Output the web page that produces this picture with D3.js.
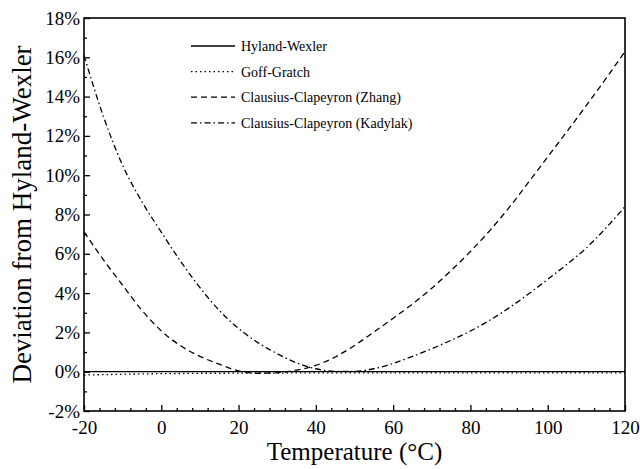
<!DOCTYPE html>
<html>
<head>
<meta charset="utf-8">
<script src="https://cdn.jsdelivr.net/npm/d3@7"></script>
<style>
  body { margin: 0; background: #fff; }
  svg text { font-family: "Liberation Serif", "Times New Roman", serif; fill: #000; }
</style>
</head>
<body>
<div id="chart"></div>
<script>
// temperatures (°C) the curves are sampled at
const temps = [-20, -15, -10, -5, 0, 5, 10, 15, 20, 25, 30, 35, 40, 45, 50,
  55, 60, 65, 70, 75, 80, 85, 90, 95, 100, 105, 110, 115, 120];

// deviation from Hyland-Wexler, in percent
const hylandWexler = [0, 0, 0, 0, 0, 0, 0, 0, 0, 0, 0, 0, 0, 0, 0,
  0, 0, 0, 0, 0, 0, 0, 0, 0, 0, 0, 0, 0, 0];
const goffGratch = [-0.17, -0.15, -0.13, -0.11, -0.10, -0.09, -0.08, -0.08, -0.07, -0.07, -0.07, -0.06, -0.06, -0.06, -0.06,
  -0.06, -0.06, -0.06, -0.06, -0.06, -0.06, -0.06, -0.06, -0.06, -0.06, -0.06, -0.06, -0.06, -0.06];
const zhang = [7.12, 5.7, 4.4, 3.12, 2.08, 1.32, 0.78, 0.38, 0.04, -0.08, -0.05, 0.08, 0.32, 0.75, 1.33,
  2.02, 2.72, 3.45, 4.25, 5.15, 6.12, 7.18, 8.35, 9.63, 10.93, 12.23, 13.55, 14.9, 16.3];
const kadylak = [16.1, 13.0, 10.5, 8.65, 7.1, 5.62, 4.28, 3.12, 2.2, 1.48, 0.92, 0.45, 0.15, 0.02, 0.02,
  0.15, 0.42, 0.78, 1.17, 1.6, 2.07, 2.62, 3.25, 3.95, 4.7, 5.47, 6.3, 7.3, 8.4];

const seriesNames = ["Hyland-Wexler", "Goff-Gratch", "Clausius-Clapeyron (Zhang)", "Clausius-Clapeyron (Kadylak)"];

// tick labels
const xTicks = [-20, 0, 20, 40, 60, 80, 100, 120];
const yTicks = [-2, 0, 2, 4, 6, 8, 10, 12, 14, 16, 18];

const width = 640;
const height = 469;
const marginLeft = 84;
const marginRight = 15;
const marginTop = 18;
const marginBottom = 58;
const chartWidth = width - marginLeft - marginRight;
const chartHeight = height - marginTop - marginBottom;

const svg = d3.select("#chart").append("svg")
  .attr("width", width)
  .attr("height", height);

const chart = svg.append("g")
  .attr("transform", `translate(${marginLeft}, ${marginTop})`);

const x = d3.scaleLinear().domain([-20, 120]).range([0, chartWidth]);
const y = d3.scaleLinear().domain([-2, 18]).range([chartHeight, 0]);

// minor ticks, every 4 °C and every 1 %
const xMinor = d3.range(-20, 121, 4).filter(v => !xTicks.includes(v));
const yMinor = d3.range(-1, 18, 2);

chart.append("g")
  .attr("transform", `translate(0, ${chartHeight})`)
  .call(d3.axisBottom(x).tickValues(xMinor).tickFormat("").tickSize(-3))
  .call(g => g.select(".domain").remove());

chart.append("g")
  .call(d3.axisLeft(y).tickValues(yMinor).tickFormat("").tickSize(-3))
  .call(g => g.select(".domain").remove());

// plain hyphen for negatives, like the original
const xAxis = chart.append("g")
  .attr("transform", `translate(0, ${chartHeight})`)
  .call(d3.axisBottom(x).tickValues(xTicks).tickSize(-6).tickPadding(10).tickFormat(d => String(d)));
xAxis.select(".domain").remove();
xAxis.selectAll(".tick text").attr("font-size", 19);

const yAxis = chart.append("g")
  .call(d3.axisLeft(y).tickValues(yTicks).tickSize(-6).tickPadding(4).tickFormat(d => d + "%"));
yAxis.select(".domain").remove();
yAxis.selectAll(".tick text").attr("font-size", 19);

chart.selectAll(".tick line").attr("stroke", "#000").attr("stroke-width", 1.3);

// frame
chart.append("rect")
  .attr("width", chartWidth)
  .attr("height", chartHeight)
  .attr("fill", "none")
  .attr("stroke", "#000")
  .attr("stroke-width", 1.6);

const dashes = [null, "1.5,3", "6,4", "6,3,1.5,3"];
const allSeries = [hylandWexler, goffGratch, zhang, kadylak];

const line = d3.line()
  .x((d, i) => x(temps[i]))
  .y(d => y(d))
  .curve(d3.curveMonotoneX);

chart.selectAll(".series")
  .data(allSeries)
  .enter().append("path")
  .attr("class", "series")
  .attr("d", d => line(d))
  .attr("fill", "none")
  .attr("stroke", "#000")
  .attr("stroke-width", 1.3)
  .attr("stroke-dasharray", (d, i) => dashes[i]);

// legend
const legend = svg.selectAll(".legend")
  .data(seriesNames)
  .enter().append("g")
  .attr("class", "legend")
  .attr("transform", (d, i) => `translate(191, ${46 + i * 25.6})`);

legend.append("line")
  .attr("x1", 0)
  .attr("x2", 44)
  .attr("stroke", "#000")
  .attr("stroke-width", 1.3)
  .attr("stroke-dasharray", (d, i) => dashes[i]);

legend.append("text")
  .attr("x", 50)
  .attr("dy", "0.35em")
  .attr("font-size", 14)
  .text(d => d);

// axis titles
svg.append("text")
  .attr("x", marginLeft + chartWidth / 2)
  .attr("y", 460)
  .attr("text-anchor", "middle")
  .attr("font-size", 25)
  .text("Temperature (°C)");

svg.append("text")
  .attr("transform", `translate(31, ${marginTop + chartHeight / 2}) rotate(-90)`)
  .attr("text-anchor", "middle")
  .attr("font-size", 27)
  .text("Deviation from Hyland-Wexler");
</script>
</body>
</html>
